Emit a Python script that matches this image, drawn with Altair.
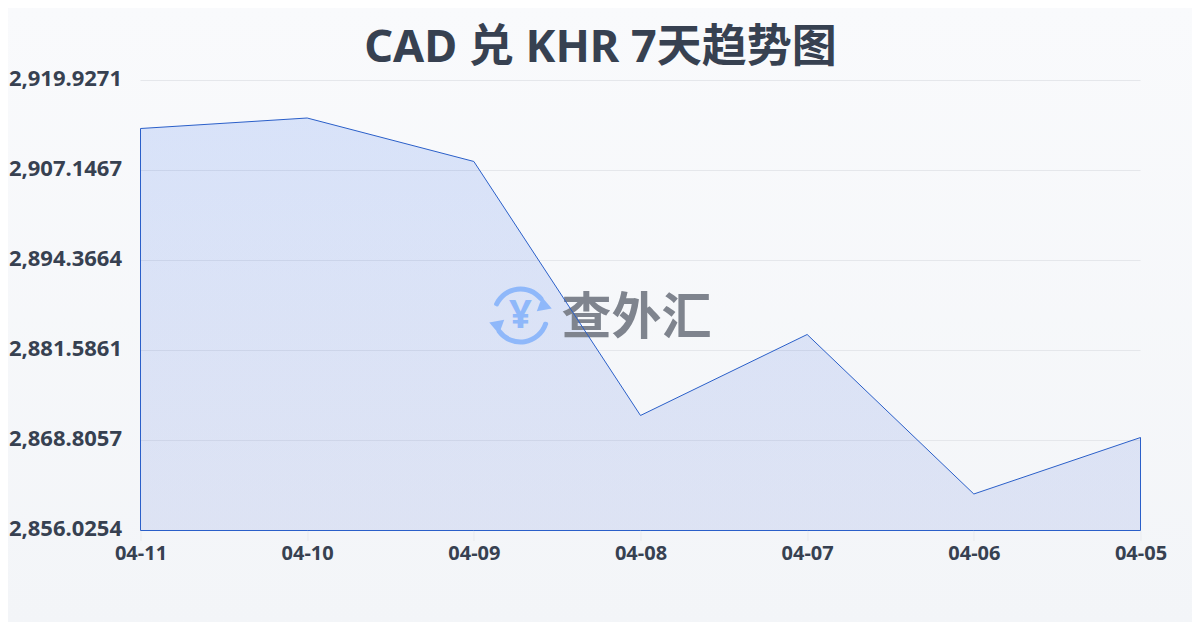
import math
import altair as alt
import pandas as pd

dates = ["04-11", "04-10", "04-09", "04-08", "04-07", "04-06", "04-05"]
rates = [2913.11, 2914.60, 2908.43, 2872.36, 2883.86, 2861.21, 2869.23]
y_ticks = [2856.0254, 2868.8057, 2881.5861, 2894.3664, 2907.1467, 2919.9271]
title_text = "CAD 兑 KHR 7天趋势图"
mark_text = "查外汇"

FONT = "Noto Sans, Noto Sans CJK SC"
CJK = "Noto Sans CJK SC"
INK = "#374151"
BLUE = "#2a5fc9"
ICON = "#8fb8fa"

df = pd.DataFrame({"date": dates, "rate": rates, "floor": [y_ticks[0]] * len(dates)})
grid_df = pd.DataFrame({"rate": y_ticks})

x = alt.X("date:N", sort=dates, scale=alt.Scale(type="point", padding=0),
          axis=alt.Axis(title=None, labelAngle=0, labelFont=FONT, labelFontSize=20,
                        labelFontWeight="bold", labelColor=INK, labelPadding=3,
                        tickColor="#e9ebef", tickSize=10, domain=False, grid=False,
                        labelFlush=False, zindex=1))
y = alt.Y("rate:Q", stack=None,
          scale=alt.Scale(domain=[y_ticks[0], y_ticks[-1]], nice=False, zero=False),
          axis=alt.Axis(title=None, values=y_ticks, format=",.4f", labelFont=FONT,
                        labelFontSize=22, labelFontWeight="bold", labelColor=INK,
                        labelPadding=19, labelOffset=-2, ticks=False, domain=False,
                        grid=False, labelFlush=False, zindex=1))

one = alt.Chart(pd.DataFrame({"a": [0]}))
backdrop = one.mark_rect(
    color=alt.Gradient(gradient="linear", x1=0, y1=0, x2=0, y2=1,
                       stops=[alt.GradientStop(color="#f9fafc", offset=0),
                              alt.GradientStop(color="#f3f5f8", offset=1)]),
).encode(x=alt.value(-133), x2=alt.value(1053), y=alt.value(-73), y2=alt.value(543))

gridlines = alt.Chart(grid_df).mark_rule(color="#e5e7eb", strokeWidth=1).encode(y=y)

base = alt.Chart(df)
fill = base.mark_area(
    line=False,
    color=alt.Gradient(
        gradient="linear", x1=0, y1=0, x2=0, y2=1,
        stops=[alt.GradientStop(color="rgba(37,99,235,0.15)", offset=0),
               alt.GradientStop(color="rgba(37,75,205,0.11)", offset=1)],
    ),
).encode(x=x, y=y, y2="floor:Q")
outline = base.mark_area(fillOpacity=0, stroke=BLUE, strokeWidth=1).encode(x=x, y=y, y2="floor:Q")

heading = one.mark_text(text=title_text, font=FONT, fontSize=45, fontWeight="bold", color=INK,
                        align="center", baseline="middle").encode(
    x=alt.value(600 - 140), y=alt.value(47 - 80))

# watermark, positioned in plot pixels (plot origin = page 140, 80)
cx, cy = 520 - 140, 315 - 80
wm_text = one.mark_text(text=mark_text, font=CJK, fontWeight="bold", fontSize=50,
                        color="#7f848e", align="left", baseline="middle").encode(
    x=alt.value(561 - 140), y=alt.value(cy + 3))
yen = one.mark_text(text="¥", font="Noto Sans", fontWeight="bold", fontSize=40, color=ICON,
                    align="center", baseline="middle").encode(x=alt.value(cx), y=alt.value(cy))
arc1 = one.mark_arc(theta=math.radians(291), theta2=math.radians(415), radius=29, radius2=24,
                    color=ICON, cornerRadius=2).encode(x=alt.value(cx), y=alt.value(cy))
arc2 = one.mark_arc(theta=math.radians(104), theta2=math.radians(238), radius=29, radius2=24,
                    color=ICON, cornerRadius=2).encode(x=alt.value(cx), y=alt.value(cy))
tri1 = one.mark_point(shape="triangle", filled=True, size=230, opacity=1, color=ICON, angle=110).encode(
    x=alt.value(543 - 140), y=alt.value(305 - 80))
tri2 = one.mark_point(shape="triangle", filled=True, size=230, opacity=1, color=ICON, angle=290).encode(
    x=alt.value(497 - 140), y=alt.value(325 - 80))

chart = alt.layer(backdrop, gridlines, fill, arc1, arc2, tri1, tri2, yen, wm_text, outline, heading).properties(
    width=1000, height=450,
    padding={"left": 132.5, "top": 72.5, "right": 51.5, "bottom": 91.5},
    autosize=alt.AutoSizeParams(type="none"),
    background="#f6f7fa",
).configure_view(stroke=None)

chart.save("out.html", embed_options={"renderer": "svg", "actions": False})
